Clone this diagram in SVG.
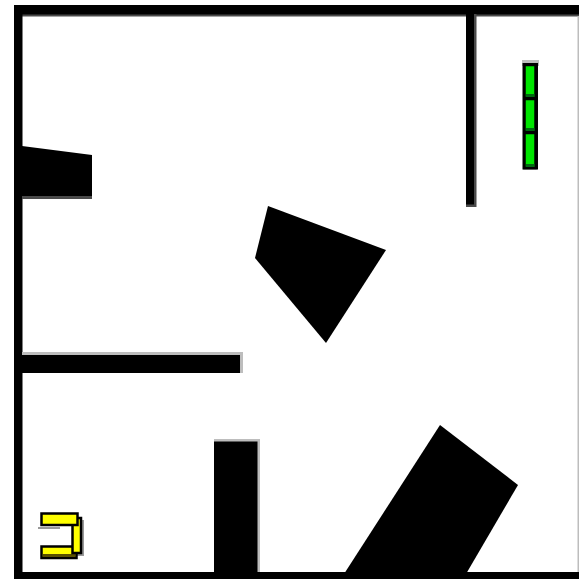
<svg xmlns="http://www.w3.org/2000/svg" width="579" height="579" viewBox="0 0 579 579">
<style>
.wall{fill:#000}
.dsh{fill:#4a4a4a}
.lsh{fill:#bdbdbd}
.g{fill:#00e600;stroke:#000;stroke-width:2.5}
.gd{fill:#006a10}
.y{fill:#ffff00;stroke:#000;stroke-width:2.5}
.yd{fill:#5a5000}
</style>
<rect width="579" height="579" fill="#fff"/>
<g id="border">
<rect class="dsh" x="22" y="14" width="557" height="2.5"/>
<rect class="wall" x="14" y="5" width="565" height="9.5"/>
<rect class="wall" x="14" y="5" width="8.5" height="574"/>
<rect class="wall" x="14" y="572" width="565" height="7"/>
<rect class="lsh" x="577.5" y="16" width="1.5" height="556"/>
</g>
<g id="wall-top-right">
<rect class="dsh" x="466" y="14" width="10.5" height="193"/>
<rect class="wall" x="466" y="14" width="8" height="190.5"/>
</g>
<g id="block-left">
<polygon class="dsh" points="22,148 92,157 92,199 22,199"/>
<polygon class="wall" points="22,146 92,155 92,196 22,196"/>
</g>
<g id="wall-middle">
<rect class="lsh" x="22" y="352" width="221" height="21"/>
<rect class="wall" x="22" y="355" width="218" height="18"/>
</g>
<g id="block-bottom">
<rect class="lsh" x="214" y="439" width="46" height="133"/>
<rect class="wall" x="214" y="441.5" width="43.5" height="131"/>
</g>
<g id="quad">
<polygon class="wall" points="268,206 386,250 326,343 255,258"/>
</g>
<g id="rotated-block">
<polygon class="wall" points="440,425 518,485 466,574 344,574"/>
</g>
<g id="green-robot">
<rect class="lsh" x="522" y="60" width="17" height="6"/>
<rect x="522.5" y="63" width="15.5" height="106.5" fill="#000"/>
<rect class="g" x="524.5" y="65" width="11" height="33"/>
<rect class="g" x="524.5" y="99" width="11" height="33"/>
<rect class="g" x="524.5" y="133" width="11" height="35"/>
<rect class="gd" x="526" y="94" width="8.5" height="3"/>
<rect class="gd" x="526" y="128" width="8.5" height="3"/>
<rect class="gd" x="526" y="164" width="8.5" height="3"/>
</g>
<g id="yellow-robot">
<rect x="38" y="527" width="22" height="2" fill="#999"/>
<rect x="74" y="520" width="10" height="36" fill="#999"/>
<rect class="y" x="41.5" y="546.5" width="35" height="11.5"/>
<rect class="yd" x="43" y="554" width="32" height="3"/>
<rect class="y" x="72.5" y="518" width="8.5" height="35"/>
<rect class="y" x="41.5" y="513.5" width="36" height="11.5"/>
</g>
</svg>
